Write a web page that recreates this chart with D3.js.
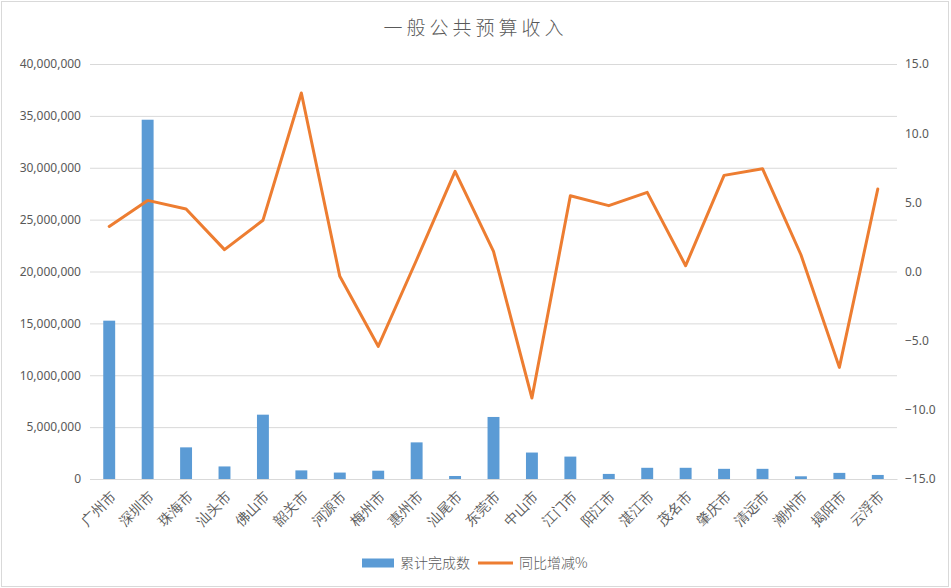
<!DOCTYPE html>
<html>
<head>
<meta charset="utf-8">
<script src="https://cdn.jsdelivr.net/npm/d3@7"></script>
<style>
  body { margin: 0; background: #fff; }
  svg { display: block; font-family: "Noto Sans CJK SC", "Noto Sans", sans-serif; }
  .tick text { fill: #595959; }
</style>
</head>
<body>
<div id="chart"></div>
<script>
const cities = ['广州市', '深圳市', '珠海市', '汕头市', '佛山市', '韶关市', '河源市', '梅州市', '惠州市', '汕尾市',
  '东莞市', '中山市', '江门市', '阳江市', '湛江市', '茂名市', '肇庆市', '清远市', '潮州市', '揭阳市', '云浮市'];
// 累计完成数
const totals = [15260000, 34630000, 3050000, 1210000, 6200000, 830000, 620000, 800000, 3530000, 290000,
  5980000, 2550000, 2160000, 490000, 1080000, 1080000, 980000, 980000, 260000, 590000, 390000];
// 同比增减%
const growth = [3.26, 5.14, 4.52, 1.58, 3.7, 12.9, -0.35, -5.41, 0.85, 7.24,
  1.45, -9.15, 5.48, 4.76, 5.72, 0.42, 6.95, 7.43, 1.21, -6.93, 5.96];
const leftTicks = [0, 5e6, 10e6, 15e6, 20e6, 25e6, 30e6, 35e6, 40e6];
const rightTicks = [-15, -10, -5, 0, 5, 10, 15];

const width = 951, height = 588;
const margin = {top: 64, right: 54, bottom: 109, left: 90};
const innerW = width - margin.left - margin.right;
const innerH = height - margin.top - margin.bottom;

const svg = d3.select('#chart').append('svg')
    .attr('width', width)
    .attr('height', height);

svg.append('rect')
    .attr('x', 1.5).attr('y', 1.5)
    .attr('width', width - 4).attr('height', height - 3)
    .attr('fill', '#fff')
    .attr('stroke', '#d9d9d9');

svg.append('text')
    .attr('x', width / 2)
    .attr('y', 35)
    .attr('text-anchor', 'middle')
    .attr('font-size', 19)
    .attr('font-weight', 300)
    .attr('letter-spacing', 4)
    .attr('fill', '#595959')
    .text('一般公共预算收入');

const chart = svg.append('g')
    .attr('transform', `translate(${margin.left},${margin.top})`);

const x = d3.scaleBand()
    .domain(cities)
    .range([0, innerW])
    .paddingInner(0.69)
    .paddingOuter(0.345);

const yL = d3.scaleLinear().domain([0, 40e6]).range([innerH, 0]);
const yR = d3.scaleLinear().domain([-15, 15]).range([innerH, 0]);

// gridlines
chart.append('g')
    .call(d3.axisLeft(yL).tickValues(leftTicks).tickSize(-innerW).tickFormat(''))
    .call(g => g.select('.domain').remove())
    .call(g => g.selectAll('line').attr('stroke', '#d9d9d9'));

// left axis
chart.append('g')
    .call(d3.axisLeft(yL).tickValues(leftTicks).tickSize(0).tickPadding(9).tickFormat(d3.format(',')))
    .call(g => g.select('.domain').remove())
    .call(g => g.selectAll('text').attr('font-size', 12).attr('font-family', '"Noto Sans", sans-serif'));

// right axis
chart.append('g')
    .attr('transform', `translate(${innerW},0)`)
    .call(d3.axisRight(yR).tickValues(rightTicks).tickSize(0).tickPadding(8).tickFormat(d3.format('.1f')))
    .call(g => g.select('.domain').remove())
    .call(g => g.selectAll('text').attr('font-size', 12).attr('font-family', '"Noto Sans", sans-serif'));

// bottom axis
chart.append('g')
    .attr('transform', `translate(0,${innerH})`)
    .call(d3.axisBottom(x).tickSize(0).tickPadding(0))
    .call(g => g.select('.domain').attr('stroke', '#d9d9d9'))
    .call(g => g.selectAll('text')
        .attr('font-size', 14)
        .attr('font-weight', 300)
        .attr('text-anchor', 'end')
        .attr('y', 0)
        .attr('dy', '0.35em')
        .attr('transform', 'translate(4,15) rotate(-45)'));

// bars
chart.selectAll('.bar')
    .data(cities)
  .join('rect')
    .attr('class', 'bar')
    .attr('x', d => x(d))
    .attr('width', x.bandwidth())
    .attr('y', (d, i) => yL(totals[i]))
    .attr('height', (d, i) => innerH - yL(totals[i]))
    .attr('fill', '#5b9bd5');

// line
const line = d3.line()
    .x(d => x(d.city) + x.bandwidth() / 2)
    .y(d => yR(d.value));

chart.append('path')
    .datum(cities.map((c, i) => ({city: c, value: growth[i]})))
    .attr('fill', 'none')
    .attr('stroke', '#ed7d31')
    .attr('stroke-width', 3)
    .attr('stroke-linejoin', 'round')
    .attr('stroke-linecap', 'round')
    .attr('d', line);

// legend
const legend = svg.append('g').attr('transform', 'translate(362,563)');
legend.append('rect')
    .attr('x', 0).attr('y', -4.5)
    .attr('width', 32).attr('height', 9)
    .attr('fill', '#5b9bd5');
legend.append('text')
    .attr('x', 38).attr('dy', '0.35em')
    .attr('font-size', 14)
    .attr('font-weight', 300)
    .attr('fill', '#595959')
    .text('累计完成数');
legend.append('line')
    .attr('x1', 116).attr('x2', 151)
    .attr('stroke', '#ed7d31')
    .attr('stroke-width', 3);
legend.append('text')
    .attr('x', 157).attr('dy', '0.35em')
    .attr('font-size', 14)
    .attr('font-weight', 300)
    .attr('fill', '#595959')
    .text('同比增减%');
</script>
</body>
</html>
